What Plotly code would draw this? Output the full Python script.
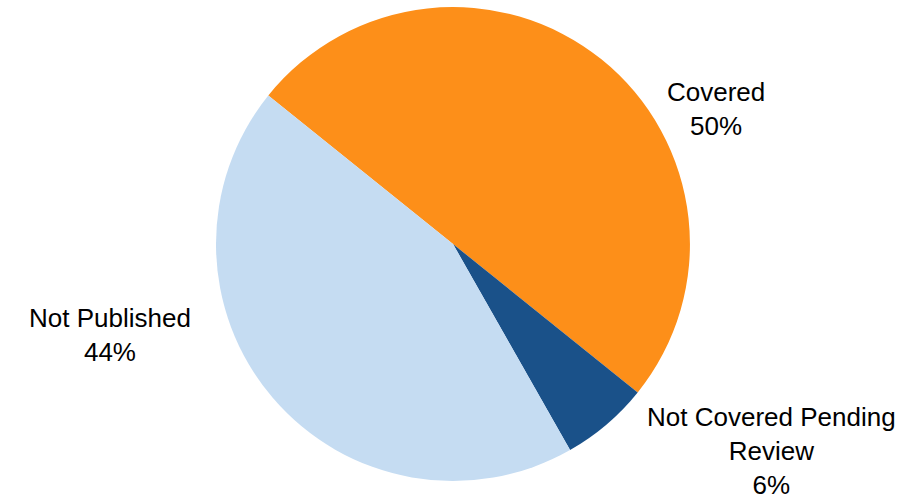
import plotly.graph_objects as go

labels = ["Covered", "Not Covered Pending Review", "Not Published"]
values = [50, 6, 44]
label_text = ["Covered<br>50%", "Not Covered Pending<br>Review<br>6%", "Not Published<br>44%"]
colors = ["#FD8F19", "#1A5189", "#C5DCF2"]

W, H = 920, 502
cx, cy, r = 453, 244, 237

fig = go.Figure(go.Pie(
    labels=labels, values=values, sort=False, direction="clockwise",
    rotation=-51.2, textinfo="none", hoverinfo="label+percent",
    marker=dict(colors=colors, line=dict(width=0)),
    domain=dict(x=[(cx - r) / W, (cx + r) / W], y=[(H - cy - r) / H, (H - cy + r) / H]),
    showlegend=False,
))

label_pos = [(716, 109), (771, 451), (110, 335)]
for txt, (x, y) in zip(label_text, label_pos):
    fig.add_annotation(x=x / W, y=(H - y) / H, xref="paper", yref="paper",
                       text=txt, showarrow=False, xanchor="center", yanchor="middle",
                       borderpad=0,
                       font=dict(family="Liberation Sans, Arial, sans-serif", size=26, color="#000000"))

fig.update_layout(width=W, height=H, margin=dict(l=0, r=0, t=0, b=0),
                  paper_bgcolor="white", plot_bgcolor="white")
fig.write_html("out.html")
